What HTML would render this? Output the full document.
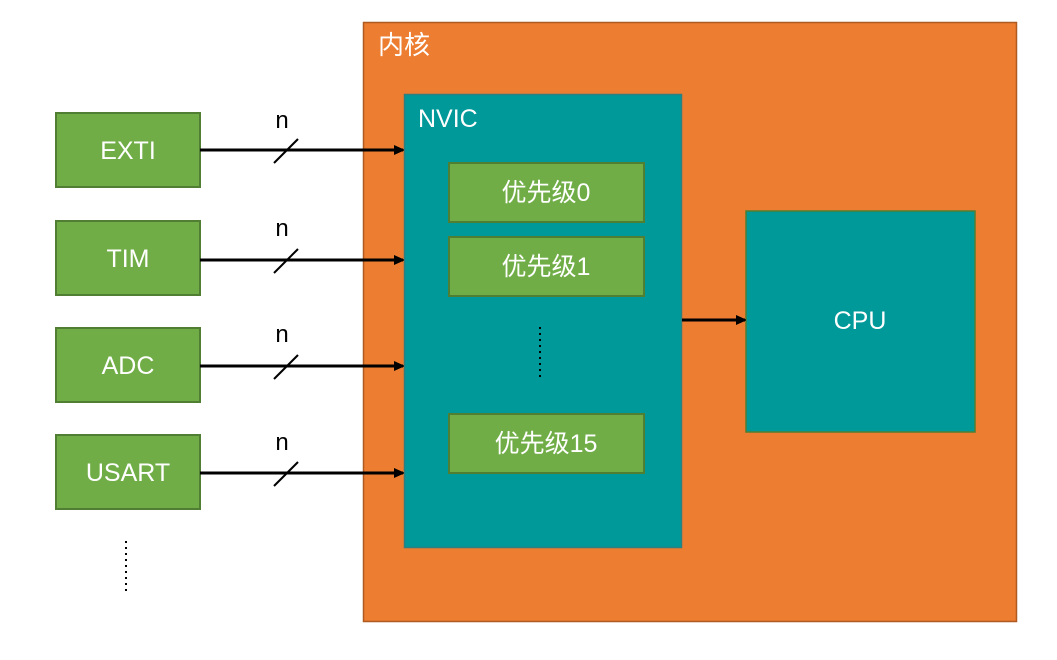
<!DOCTYPE html>
<html><head><meta charset="utf-8"><style>body{margin:0;background:#fff}svg{display:block}</style></head>
<body>
<svg width="1057" height="660" viewBox="0 0 1057 660" xmlns="http://www.w3.org/2000/svg" font-family="'Liberation Sans','Noto Sans CJK SC',sans-serif">
<defs><marker id="a" markerWidth="10" markerHeight="10" refX="9" refY="5" orient="auto" markerUnits="userSpaceOnUse"><path d="M0,0 L11,5 L0,10 z" fill="#000"/></marker></defs>
<rect x="363.5" y="22.5" width="653" height="599" fill="#ed7d31" stroke="#ae5a21" stroke-width="1.5"/>
<text x="378" y="54" font-size="26" fill="#fff">内核</text>
<rect x="404.5" y="94.5" width="277" height="453" fill="#009999" stroke="#2f7f7f" stroke-width="1.5"/>
<text x="418" y="127" font-size="25" fill="#fff">NVIC</text>
<g fill="#70ad47" stroke="#507e32" stroke-width="2">
<rect x="56" y="113" width="144" height="74"/><rect x="56" y="221" width="144" height="74"/>
<rect x="56" y="328" width="144" height="74"/><rect x="56" y="435" width="144" height="74"/>
<rect x="449" y="163" width="195" height="59"/><rect x="449" y="237" width="195" height="59"/>
<rect x="449" y="414" width="195" height="59"/>
</g>
<rect x="746" y="211" width="229" height="221" fill="#009999" stroke="#507e32" stroke-width="1.5"/>
<g fill="#fff" font-size="25" text-anchor="middle">
<text x="128" y="159">EXTI</text><text x="128" y="267">TIM</text><text x="128" y="374">ADC</text><text x="128" y="481">USART</text>
<text x="546" y="201">优先级0</text><text x="546" y="275">优先级1</text><text x="546" y="452">优先级15</text>
<text x="860" y="329">CPU</text>
</g>
<g stroke="#000" stroke-width="3" marker-end="url(#a)">
<line x1="200" y1="150" x2="403" y2="150"/><line x1="200" y1="260" x2="403" y2="260"/>
<line x1="200" y1="366" x2="403" y2="366"/><line x1="200" y1="473" x2="403" y2="473"/>
<line x1="682" y1="320" x2="745" y2="320"/>
</g>
<g stroke="#000" stroke-width="2">
<line x1="274" y1="163" x2="298" y2="139"/><line x1="274" y1="273" x2="298" y2="249"/>
<line x1="274" y1="379" x2="298" y2="355"/><line x1="274" y1="486" x2="298" y2="462"/>
<line x1="540" y1="327" x2="540" y2="381" stroke-dasharray="2,4"/>
<line x1="126" y1="541" x2="126" y2="595" stroke-dasharray="2,4"/>
</g>
<g fill="#000" font-size="24" text-anchor="middle">
<text x="282" y="128">n</text><text x="282" y="236">n</text><text x="282" y="342">n</text><text x="282" y="450">n</text>
</g>
</svg>
</body></html>
